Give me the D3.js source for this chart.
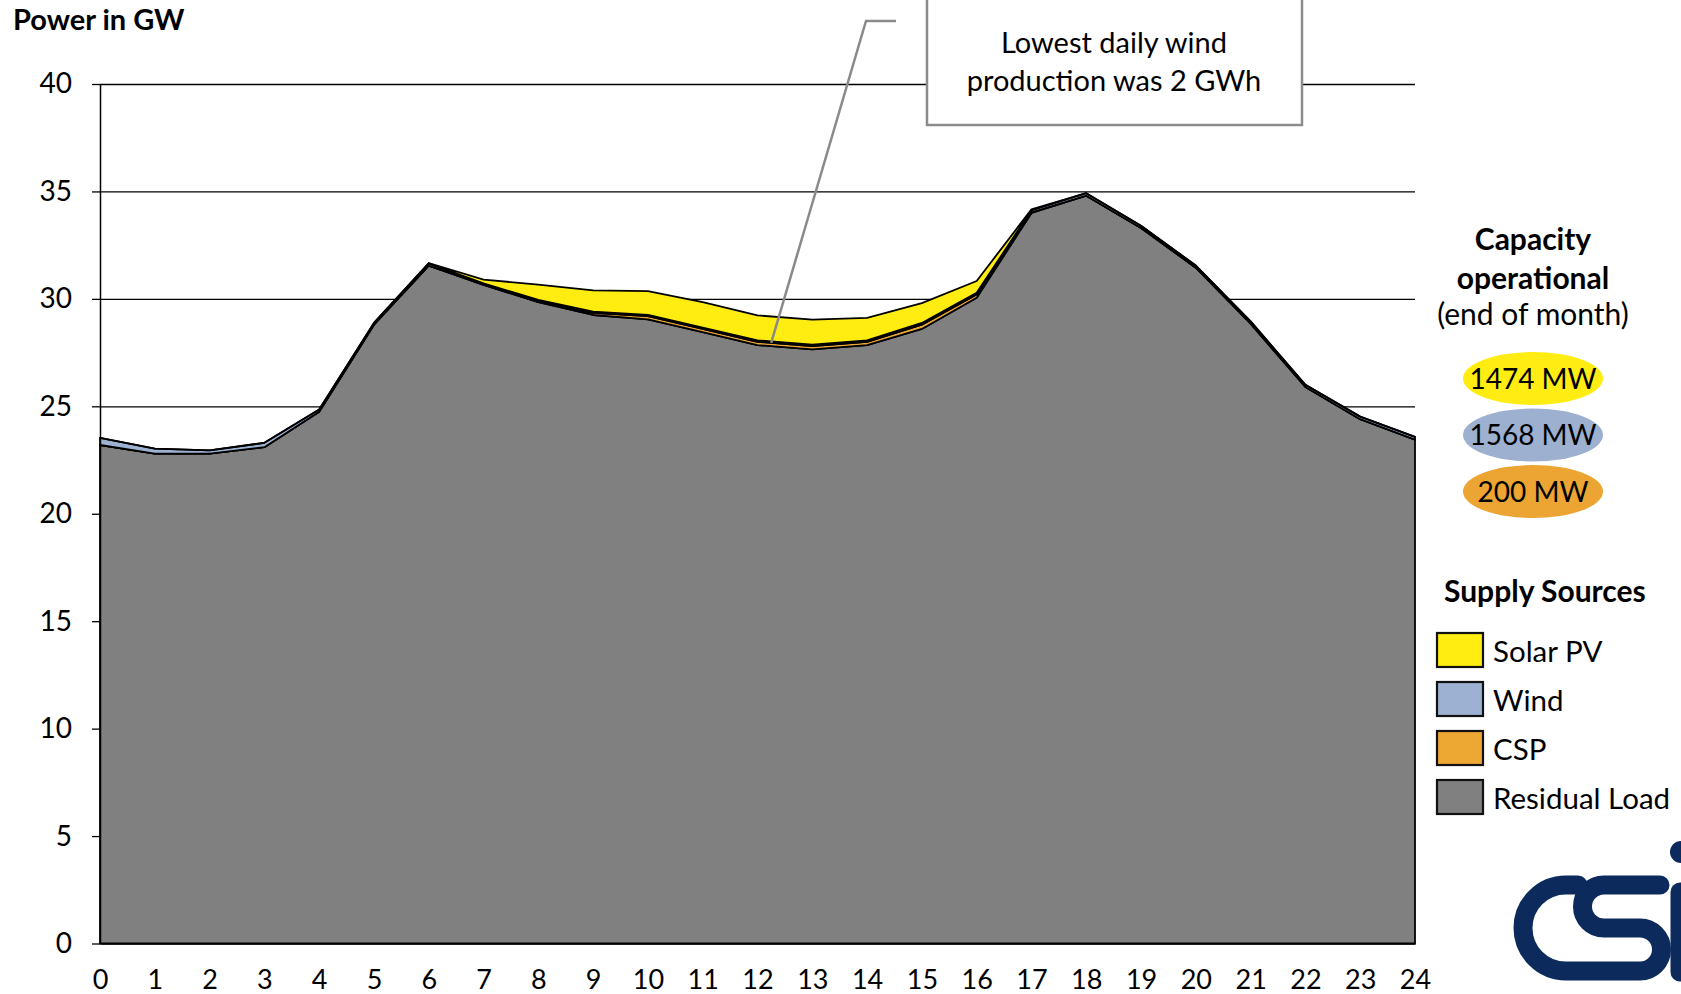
<!DOCTYPE html>
<html>
<head>
<meta charset="utf-8">
<script src="https://cdn.jsdelivr.net/npm/d3@7"></script>
<style>
  body { margin: 0; background: #fff; }
  svg { display: block; font-family: Lato, "Open Sans", sans-serif; }
</style>
</head>
<body>
<div class="holder"></div>
<script>
"use strict";

// hourly values, GW
const hours = [0, 1, 2, 3, 4, 5, 6, 7, 8, 9, 10, 11, 12, 13, 14, 15, 16, 17, 18, 19, 20, 21, 22, 23, 24];
const residualLoad = [23.2, 22.8, 22.8, 23.1, 24.75, 28.8, 31.55, 30.65, 29.85, 29.25, 29.05, 28.45, 27.85, 27.65, 27.85, 28.6, 30.05, 34.0, 34.8, 33.3, 31.45, 28.85, 25.9, 24.4, 23.45];
const csp = [0, 0, 0, 0, 0, 0, 0, 0.02, 0.05, 0.1, 0.15, 0.15, 0.15, 0.15, 0.15, 0.2, 0.15, 0.03, 0, 0, 0, 0, 0, 0, 0];
const wind = [0.33, 0.23, 0.15, 0.2, 0.1, 0.08, 0.1, 0.05, 0.05, 0.06, 0.06, 0.06, 0.07, 0.07, 0.07, 0.08, 0.08, 0.1, 0.12, 0.1, 0.1, 0.1, 0.1, 0.12, 0.13];
const solarPV = [0, 0, 0, 0, 0, 0, 0.02, 0.18, 0.71, 0.99, 1.1, 1.19, 1.16, 1.16, 1.05, 0.92, 0.55, 0.04, 0, 0, 0, 0, 0, 0, 0];

const yTicks = [0, 5, 10, 15, 20, 25, 30, 35, 40];
const sourceNames = ["Solar PV", "Wind", "CSP", "Residual Load"];
const capacityLabels = ["1474 MW", "1568 MW", "200 MW"];
const annotationLines = ["Lowest daily wind", "production was 2 GWh"];
const annotHour = 12.25;
const annotValue = 27.95;

const colors = {
  "Solar PV": "#ffec10",
  "Wind": "#9db2d3",
  "CSP": "#eda733",
  "Residual Load": "#808080"
};
const capacityColors = ["#ffec13", "#9db0cf", "#eca432"];

const w = 1681;
const h = 994;
const margin = { left: 100, right: 266, top: 84, bottom: 50.5 };

const svg = d3.select(".holder").append("svg").attr("width", w).attr("height", h);

const x = d3.scaleLinear().domain([0, 24]).range([margin.left, w - margin.right]);
const y = d3.scaleLinear().domain([0, 40]).range([h - margin.bottom, margin.top]);

const rows = hours.map((hr, i) => ({
  hour: hr,
  "Residual Load": residualLoad[i],
  "CSP": csp[i],
  "Wind": wind[i],
  "Solar PV": solarPV[i]
}));

// gridlines
svg.append("g")
  .attr("transform", "translate(" + margin.left + ",0)")
  .call(d3.axisLeft(y).tickValues(yTicks.slice(1)).tickSize(-(x(24) - x(0))).tickFormat(""))
  .call((g) => g.select(".domain").remove())
  .selectAll("line").attr("stroke", "#000").attr("stroke-width", 1.3);

// stacked areas, bottom to top
const stack = d3.stack().keys(["Residual Load", "CSP", "Wind", "Solar PV"]);
const layers = stack(rows);
const area = d3.area()
  .x((d) => x(d.data.hour))
  .y0((d) => y(d[0]))
  .y1((d) => y(d[1]));

svg.append("g").selectAll("path")
  .data(layers)
  .enter()
  .append("path")
  .attr("d", area)
  .attr("fill", (d) => colors[d.key])
  .attr("stroke", "#000")
  .attr("stroke-width", 1.8)
  .attr("stroke-linejoin", "round");

// y axis
const yAxis = svg.append("g")
  .attr("transform", "translate(" + margin.left + ",0)")
  .call(d3.axisLeft(y).tickValues(yTicks).tickSize(8).tickSizeOuter(0).tickPadding(20));
yAxis.select(".domain").attr("stroke", "#000").attr("stroke-width", 1.5);
yAxis.selectAll("line").attr("stroke", "#000").attr("stroke-width", 1.3);
yAxis.selectAll("text").attr("font-size", 28).attr("fill", "#000").attr("font-family", "Lato");

// x axis
const xAxis = svg.append("g")
  .attr("transform", "translate(0," + y(0) + ")")
  .call(d3.axisBottom(x).tickValues(hours).tickSize(0).tickSizeOuter(0));
xAxis.select(".domain").attr("stroke", "#000").attr("stroke-width", 1.5);
xAxis.selectAll("text")
  .attr("font-size", 27)
  .attr("fill", "#000")
  .attr("font-family", "Lato")
  .attr("y", 45.5)
  .attr("dy", 0);

// title
svg.append("text")
  .attr("x", 13).attr("y", 30)
  .attr("font-size", 29).attr("font-weight", "bold")
  .text("Power in GW");

// annotation with leader line
svg.append("polyline")
  .attr("points", [[896, 21], [866, 21], [x(annotHour), y(annotValue)]].map((p) => p.join(",")).join(" "))
  .attr("fill", "none")
  .attr("stroke", "#8a8a8a")
  .attr("stroke-width", 2.5);
svg.append("rect")
  .attr("x", 927).attr("y", -3)
  .attr("width", 375).attr("height", 128)
  .attr("fill", "#fff")
  .attr("stroke", "#8c8c8c")
  .attr("stroke-width", 2.5);
svg.append("g").selectAll("text")
  .data(annotationLines)
  .enter()
  .append("text")
  .attr("x", 1114)
  .attr("y", (d, i) => 53 + i * 38)
  .attr("text-anchor", "middle")
  .attr("font-size", 29)
  .text((d) => d);

// capacity block
const capTitle = svg.append("g").attr("text-anchor", "middle");
capTitle.append("text").attr("x", 1533).attr("y", 250).attr("font-size", 30).attr("font-weight", "bold").text("Capacity");
capTitle.append("text").attr("x", 1533).attr("y", 289).attr("font-size", 30).attr("font-weight", "bold").text("operational");
capTitle.append("text").attr("x", 1533).attr("y", 325).attr("font-size", 30).text("(end of month)");

const cap = svg.append("g").selectAll("g")
  .data(capacityLabels)
  .enter()
  .append("g")
  .attr("transform", (d, i) => "translate(1533," + (378.5 + i * 56.5) + ")");
cap.append("ellipse")
  .attr("rx", 70).attr("ry", 26.5)
  .attr("fill", (d, i) => capacityColors[i]);
cap.append("text")
  .attr("text-anchor", "middle")
  .attr("y", 10)
  .attr("font-size", 28)
  .text((d) => d);

// supply sources legend
svg.append("text")
  .attr("x", 1444).attr("y", 602)
  .attr("font-size", 30).attr("font-weight", "bold")
  .text("Supply Sources");

const leg = svg.append("g").selectAll("g")
  .data(sourceNames)
  .enter()
  .append("g")
  .attr("transform", (d, i) => "translate(1437," + (633 + i * 49) + ")");
leg.append("rect")
  .attr("width", 46).attr("height", 34)
  .attr("fill", (d) => colors[d])
  .attr("stroke", "#111")
  .attr("stroke-width", 2.2);
leg.append("text")
  .attr("x", 56).attr("y", 29)
  .attr("font-size", 29.5)
  .text((d) => d);

// logo
const logo = svg.append("g").attr("fill", "none").attr("stroke", "#0c2b5c").attr("stroke-width", 19).attr("stroke-linecap", "round");
logo.append("path")
  .attr("d", "M1578,885 L1566,885 A43,43 0 0 0 1566,971 L1640,971 A21.5,21.5 0 0 0 1640,928 L1604,928 A21.5,21.5 0 0 1 1604,885 L1660,885");
logo.append("path").attr("d", "M1680,892 L1680,972");
svg.append("circle").attr("cx", 1681).attr("cy", 852).attr("r", 11).attr("fill", "#0c2b5c");
</script>
</body>
</html>
